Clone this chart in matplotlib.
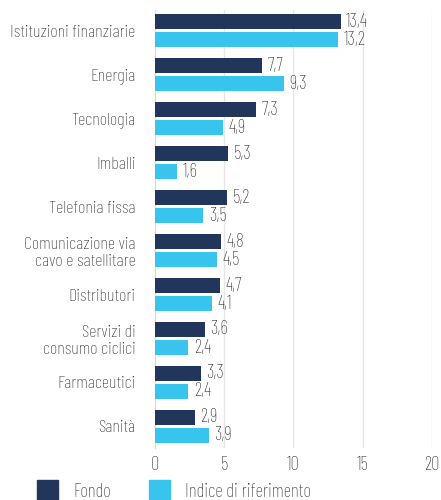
import matplotlib.pyplot as plt
from matplotlib import font_manager
from matplotlib.patches import Patch

# Settori e pesi (%)
sectors = ['Istituzioni finanziarie', 'Energia', 'Tecnologia', 'Imballi',
           'Telefonia fissa', 'Comunicazione via\ncavo e satellitare',
           'Distributori', 'Servizi di\nconsumo ciclici', 'Farmaceutici', 'Sanità']
fondo = [13.4, 7.7, 7.3, 5.3, 5.2, 4.8, 4.7, 3.6, 3.3, 2.9]
indice = [13.2, 9.3, 4.9, 1.6, 3.5, 4.5, 4.1, 2.4, 2.4, 3.9]
xticks = [0, 5, 10, 15, 20]

# condensed font, if one is around
names = {f.name for f in font_manager.fontManager.ttflist}
family = 'DejaVu Sans'
for cand in ['Barlow Condensed', 'Roboto Condensed', 'PT Sans Narrow',
             'Archivo Narrow', 'Liberation Sans Narrow', 'Oswald']:
    if cand in names:
        family = cand
        break
condensed = family != 'DejaVu Sans'
plt.rcParams['font.family'] = [family, 'DejaVu Sans']
plt.rcParams['font.weight'] = 'light' if condensed else 'normal'
fs = 13.5 if condensed else 10
fs_lab = 13.1 if condensed else 9.5

navy = '#22355b'
cyan = '#38c4ec'
txt = '#333333'

fig = plt.figure(figsize=(4.41, 5), dpi=100)
ax = fig.add_axes([0.351, 0.104, 0.629, 0.876])

y = list(range(len(sectors)))
off, h = 0.205, 0.34
ax.barh([i - off for i in y], fondo, height=h, color=navy, zorder=3)
ax.barh([i + off for i in y], indice, height=h, color=cyan, zorder=3)

for i in y:
    ax.text(fondo[i] + 0.4, i - off, f'{fondo[i]:.1f}'.replace('.', ','),
            va='center', ha='left', fontsize=fs, color=txt)
    ax.text(indice[i] + 0.4, i + off, f'{indice[i]:.1f}'.replace('.', ','),
            va='center', ha='left', fontsize=fs, color=txt)

ax.set_xlim(0, 20)
ax.set_ylim(9.49, -0.47)
ax.set_xticks(xticks)
ax.set_xticklabels([str(t) for t in xticks], fontsize=fs, color=txt)
ax.set_yticks(y)
ax.set_yticklabels(sectors, fontsize=fs_lab, color=txt, linespacing=1.1)
ax.tick_params(length=0, pad=6)
ax.tick_params(axis='y', pad=14)
ax.grid(axis='x', color='#e6e6e6', linewidth=1, zorder=0)
for s in ['top', 'right', 'bottom']:
    ax.spines[s].set_visible(False)
ax.spines['left'].set_color('#d9d9d9')

handles = [Patch(color=navy, label='Fondo'), Patch(color=cyan, label='Indice di riferimento')]
fig.legend(handles=handles, loc='lower left', bbox_to_anchor=(0.045, -0.035), ncol=2,
           frameon=False, fontsize=fs, handlelength=1.15, handleheight=1.3,
           handletextpad=0.8, columnspacing=2.0, labelcolor=txt)

fig.savefig('out.png', dpi=100)
